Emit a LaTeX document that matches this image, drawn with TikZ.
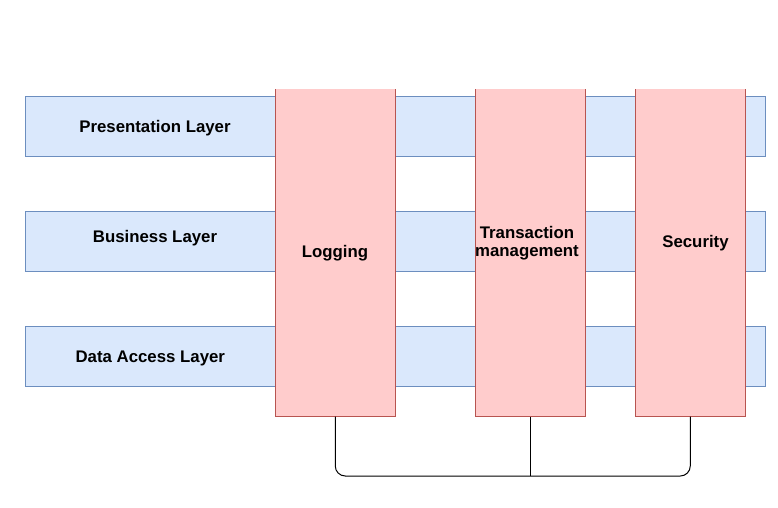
\documentclass[tikz,border=0pt]{standalone}
\usepackage{fontspec}
\setmainfont{Liberation Sans}
\definecolor{layerfill}{HTML}{DAE8FC}
\definecolor{layerdraw}{HTML}{6C8EBF}
\definecolor{aspfill}{HTML}{FFCCCC}
\definecolor{aspdraw}{HTML}{B85450}
\begin{document}
\begin{tikzpicture}[x=0.75pt,y=-0.75pt,
  layerbox/.style={draw=layerdraw,fill=layerfill,line width=0.75pt,minimum width=555pt,minimum height=45pt,inner sep=0pt,anchor=north west},
  aspbox/.style={fill=aspfill,minimum height=245.25pt,inner sep=0pt,anchor=north west},
  aspedge/.style={draw=aspdraw,line width=0.75pt},
  txt/.style={font=\fontsize{12.6}{13.5}\selectfont\bfseries,anchor=base,inner sep=0pt,align=center},
  conn/.style={draw=black,line width=0.75pt,rounded corners=7.5pt}]
\useasboundingbox (0,0) rectangle (778,507);
% layers
\node[layerbox] (pres) at (25,96) {};
\node[layerbox] (bus) at (25,211) {};
\node[layerbox] (data) at (25,326) {};
\node[txt] (presT) at (155,132) {Presentation Layer};
\node[txt] (busT) at (155,242.3) {Business Layer};
\node[txt] (dataT) at (150.3,362.3) {Data Access Layer};
% aspects
\node[aspbox,minimum width=90pt] (log) at (275,89) {};
\node[aspbox,minimum width=82.5pt] (tx) at (475,89) {};
\node[aspbox,minimum width=82.5pt] (sec) at (635,89) {};
\foreach \b in {log,tx,sec}
  \draw[aspedge] (\b.north west) -- (\b.south west) -- (\b.south east) -- (\b.north east);
\node[txt] (logT) at (335,257.3) {Logging};
\node[txt] (txT) at (527,256) {Transaction\\management};
\node[txt] (secT) at (695.5,247.3) {Security};
% connector
\coordinate (bot) at (0,476);
\draw[conn] (log.south) -- (log.south |- bot) -- (sec.south |- bot) -- (sec.south);
\draw[conn] (tx.south) -- (tx.south |- bot);
\end{tikzpicture}
\end{document}
